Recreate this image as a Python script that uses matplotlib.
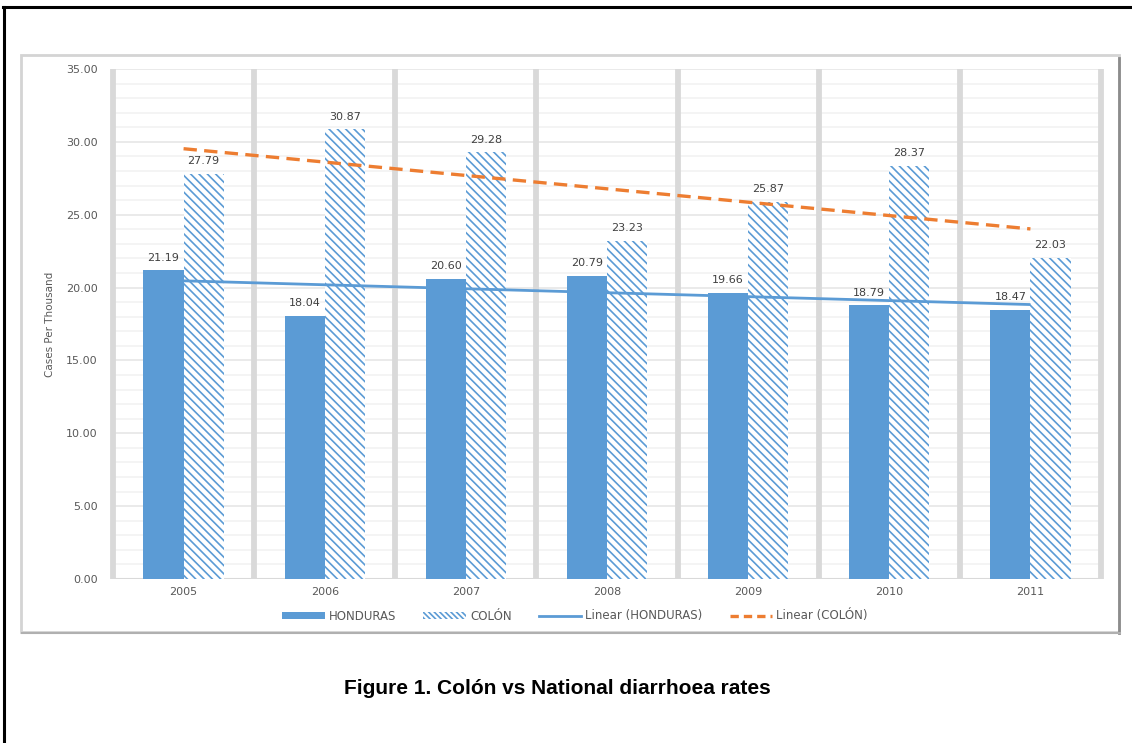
import numpy as np
import matplotlib.pyplot as plt
from matplotlib.patches import Rectangle, Patch
from matplotlib.lines import Line2D

years = ['2005', '2006', '2007', '2008', '2009', '2010', '2011']
honduras = [21.19, 18.04, 20.60, 20.79, 19.66, 18.79, 18.47]
colon = [27.79, 30.87, 29.28, 23.23, 25.87, 28.37, 22.03]

blue = '#5b9bd5'
orange = '#ed7d31'
grey_txt = '#595959'

plt.rcParams['font.family'] = ['DejaVu Sans']
plt.rcParams['hatch.linewidth'] = 1.2

W, H = 1132, 743
fig = plt.figure(figsize=(W / 100, H / 100), dpi=100)

def fx(px):
    return px / W

def fy(py):
    return 1 - py / H

# outer black frame (only left and top edges fall inside the page)
fig.add_artist(Line2D([fx(4), fx(4)], [fy(7), fy(760)], color='black', lw=2.2, zorder=-5))
fig.add_artist(Line2D([fx(3), fx(1140)], [fy(7), fy(7)], color='black', lw=2.2, zorder=-5))

# grey chart panel with a little shadow, kept behind the axes
fig.add_artist(Rectangle((fx(21), fy(632)), fx(1119) - fx(21), fy(55) - fy(632),
                         facecolor='white', edgecolor='#d4d4d4', lw=2, zorder=-5))
fig.add_artist(Line2D([fx(1119), fx(1119)], [fy(58), fy(633)], color='#8c8c8c', lw=2, zorder=-4))
fig.add_artist(Line2D([fx(22), fx(1120)], [fy(633), fy(633)], color='#b0b0b0', lw=1.5, zorder=-4))

ax = fig.add_axes([fx(113), fy(579), fx(1101) - fx(113), fy(69) - fy(579)])
ax.patch.set_alpha(0)
x = np.arange(len(years))
bw = 0.284

# grid: faint lines every 1, a bit stronger every 5, thick separators between years
for v in np.arange(1, 35):
    ax.axhline(v, color='#e6e6e6' if v % 5 == 0 else '#f2f2f2', lw=1.2, zorder=0)
ax.axhline(35, color='#e6e6e6', lw=1.2, zorder=0)
for b in np.arange(-0.5, len(years), 1.0):
    ax.axvline(b, color='#d9d9d9', lw=4.2, zorder=0.5, clip_on=False, solid_capstyle='butt')
ax.axhline(0, color='#d9d9d9', lw=1.5, zorder=0.5)

hb = ax.bar(x - bw / 2, honduras, bw, color=blue, zorder=2, label='HONDURAS')
cb = ax.bar(x + bw / 2, colon, bw, facecolor='white', edgecolor=blue, lw=0,
            hatch='\\\\\\\\', zorder=2, label='COLÓN')

for xi, v in zip(x - bw / 2, honduras):
    ax.annotate(f'{v:.2f}', (xi, v), xytext=(0, 5.5), textcoords='offset points',
                ha='center', va='bottom', fontsize=8, color='#404040', zorder=4)
for xi, v in zip(x + bw / 2, colon):
    ax.annotate(f'{v:.2f}', (xi, v), xytext=(0, 5.5), textcoords='offset points',
                ha='center', va='bottom', fontsize=8, color='#404040', zorder=4)

# linear trend lines
kh = np.polyfit(x, honduras, 1)
kc = np.polyfit(x, colon, 1)
ax.plot(x, np.polyval(kh, x), color=blue, lw=2, zorder=3, solid_capstyle='butt')
ax.plot(x, np.polyval(kc, x), color=orange, lw=2.4, dashes=(4, 2.2), zorder=3)

ax.set_xlim(-0.5, len(years) - 0.5)
ax.set_ylim(0, 35)
ax.set_xticks(x)
ax.set_xticklabels(years)
ax.set_yticks(np.arange(0, 36, 5))
ax.set_yticklabels([f'{v:.2f}' for v in np.arange(0, 36, 5)])
ax.tick_params(length=0, labelsize=8, labelcolor=grey_txt, pad=6)
ax.tick_params(axis='y', pad=11)
for s in ax.spines.values():
    s.set_visible(False)

fig.text(fx(50), fy(324), 'Cases Per Thousand', rotation=90, ha='center', va='center',
         fontsize=7.5, color=grey_txt, family=['Liberation Sans Narrow', 'DejaVu Sans'])

handles = [Patch(facecolor=blue, label='HONDURAS'),
           Patch(facecolor='white', edgecolor=blue, lw=0, hatch='\\\\\\\\\\\\', label='COLÓN'),
           Line2D([], [], color=blue, lw=2, label='Linear (HONDURAS)'),
           Line2D([], [], color=orange, lw=2.4, dashes=(2.5, 1.5), label='Linear (COLÓN)')]
fig.legend(handles=handles, loc='center', bbox_to_anchor=(fx(575), fy(616)), ncol=4,
           frameon=False, fontsize=8.5, labelcolor=grey_txt, handlelength=3.6,
           handleheight=0.6, handletextpad=0.35, columnspacing=2.3)

fig.text(fx(557), fy(689), 'Figure 1. Colón vs National diarrhoea rates', ha='center',
         va='center', fontsize=15, fontweight='bold', family=['Liberation Sans', 'DejaVu Sans'])

fig.savefig('out.png', dpi=100)
